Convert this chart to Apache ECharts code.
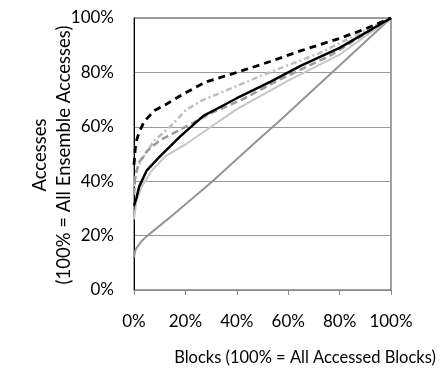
<!DOCTYPE html>
<html>
<head>
<meta charset="utf-8">
<script src="https://cdn.jsdelivr.net/npm/echarts@6/dist/echarts.min.js"></script>
<style>html,body{margin:0;padding:0;background:#fff;}#c{width:441px;height:371px;}</style>
</head>
<body>
<div id="c"></div>
<script>
// Tick labels
const xTicks = [0, 20, 40, 60, 80, 100];
const yTicks = [0, 20, 40, 60, 80, 100];

// Series values: x = % of blocks, y = % of accesses
const blackDashedX = [0, 0.5, 1, 2, 4, 8, 12, 20, 28, 40, 53, 65, 80, 90, 100];
const blackDashedY = [46, 52, 55, 58, 62, 66, 68, 72.5, 76.5, 80, 84, 88, 92.5, 96, 100];

const blackSolidX = [0, 1, 2, 5, 10, 18, 27, 33, 40, 53, 65, 80, 100];
const blackSolidY = [31, 34, 38, 44, 49, 56.5, 64, 67, 70.5, 76.5, 82.5, 89, 100];

const grayDashedX = [0, 0.5, 2, 5, 10, 17, 24, 30, 42, 57, 76, 100];
const grayDashedY = [35, 42, 47, 51, 55, 58.5, 62, 65, 70, 77.5, 86, 100];

const lightDashDotX = [0, 1, 3, 8, 14, 20, 26, 40, 50, 72, 100];
const lightDashDotY = [38, 44, 48, 55, 60, 66, 69.5, 75, 79, 87, 100];

const lightSolidX = [0, 1, 3, 7, 12, 20, 30, 40, 60, 80, 100];
const lightSolidY = [26, 33, 38, 44, 49, 53.5, 60, 66.5, 77, 86.5, 100];

const diagonalX = [0, 0.5, 1, 3, 5, 15, 30, 48, 57, 80, 100];
const diagonalY = [12, 14.5, 15.5, 18, 19.8, 27.5, 39.5, 55, 62.5, 82.5, 100];

function pairs(xs, ys) { return xs.map((x, i) => [x, ys[i]]); }

const FONT = 'Lato';
const chart = echarts.init(document.getElementById('c'), null, {renderer: 'canvas'});

function line(xs, ys, color, width, type) {
  return {
    type: 'line', data: pairs(xs, ys), showSymbol: false, symbol: 'none',
    lineStyle: {color: color, width: width, type: type, cap: 'butt'},
    animation: false, silent: true
  };
}

chart.setOption({
  animation: false,
  grid: {left: 134, right: 50, top: 18, bottom: 81, show: true, borderColor: '#444', borderWidth: 1, backgroundColor: 'transparent'},
  xAxis: {
    type: 'value', min: 0, max: 100, interval: 20,
    axisLine: {show: true, onZero: false, lineStyle: {color: '#888', width: 1}},
    axisTick: {show: true, inside: false, length: 5, lineStyle: {color: '#888'}},
    splitLine: {show: false},
    axisLabel: {margin: 23, fontFamily: FONT, fontSize: 17, color: '#000',
      formatter: v => xTicks.includes(v) ? v + '%' : ''}
  },
  yAxis: {
    type: 'value', min: 0, max: 100, interval: 20,
    axisLine: {show: true, lineStyle: {color: '#000', width: 1}},
    axisTick: {show: false},
    splitLine: {show: true, lineStyle: {color: '#999', width: 1}},
    axisLabel: {margin: 20, fontFamily: FONT, fontSize: 17, color: '#000',
      formatter: v => yTicks.includes(v) ? v + '%' : ''}
  },
  graphic: [
    {type: 'text', x: 40, y: 155, rotation: Math.PI / 2,
      style: {text: 'Accesses', fontFamily: FONT, fontSize: 18.5, fill: '#000', textAlign: 'center', textVerticalAlign: 'middle'}},
    {type: 'text', x: 64, y: 155, rotation: Math.PI / 2,
      style: {text: '(100% = All Ensemble Accesses)', fontFamily: FONT, fontSize: 18.5, fill: '#000', textAlign: 'center', textVerticalAlign: 'middle'}},
    {type: 'text', x: 305, y: 358,
      style: {text: 'Blocks (100% = All Accessed Blocks)', fontFamily: FONT, fontSize: 16.5, fill: '#000', textAlign: 'center', textVerticalAlign: 'middle'}}
  ],
  series: [
    line(diagonalX, diagonalY, '#949494', 2, 'solid'),
    line(lightSolidX, lightSolidY, '#c6c6c6', 2, 'solid'),
    line(lightDashDotX, lightDashDotY, '#bdbdbd', 2.5, [6, 3, 2, 3]),
    line(grayDashedX, grayDashedY, '#9a9a9a', 2.5, [7, 4]),
    line(blackSolidX, blackSolidY, '#000000', 2.5, 'solid'),
    line(blackDashedX, blackDashedY, '#000000', 2.8, [7, 5])
  ]
});
</script>
</body>
</html>
